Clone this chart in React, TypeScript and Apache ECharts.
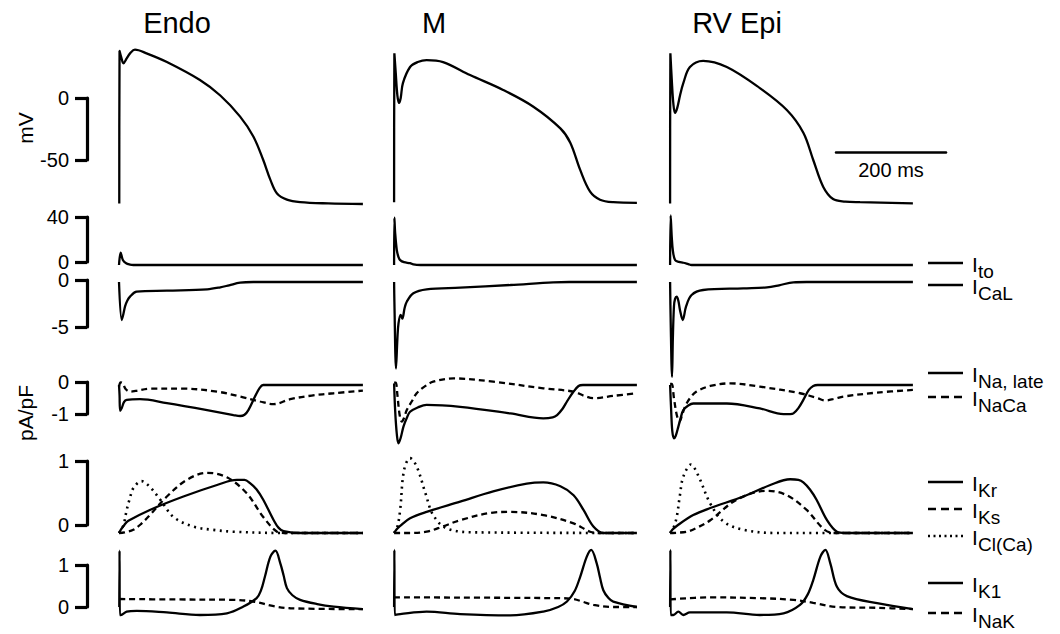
import React, { useEffect, useRef } from "react";
import * as echarts from "echarts";

// ---------- labels ----------
const columnTitles = ["Endo", "M", "RV Epi"];
const scaleBarTicks = [
  [-50, 0],
  [0, 40],
  [-5, 0],
  [-1, 0],
  [0, 1],
  [0, 1],
];
const timeBarMs = 200;

// ---------- membrane potential (mV) vs time (ms) ----------
const endoV = [[0.5,-85],[1,38],[4,33],[8,28],[14,32],[20,36],[29,39],[50,36],[87,29],[147,14.5],[184,2],[220,-15],[244,-31],[262,-50],[275,-66],[287,-77],[305,-82],[329,-84],[380,-85],[443,-85.5]];
const mV = [[2,-84],[2.5,36],[5,20],[8,2],[11,-4],[14,0],[18,12],[31,25],[45,29],[61,30.6],[91,29],[140,18.5],[200,6.5],[255,-7],[304,-24.5],[322,-36],[340,-58],[358,-75.5],[376,-82],[400,-84],[443,-84.5]];
const rvV = [[2,-85],[2.5,36],[5,15],[8,-5],[11,-12],[15,-8],[20,2],[26,12],[38,25],[62,30],[105,25],[165,8],[214,-9.7],[244,-28],[262,-50],[280,-71.5],[298,-81.5],[320,-83.5],[347,-84],[443,-85]];

// ---------- Ito ----------
const endoIto = [[0,0],[1,0],[3,11],[7,4.4],[13,1.5],[20,0.4],[26,0],[443,0]];
const mIto = [[2,0],[2.5,42],[4,28],[7,13],[10,7],[13,4.4],[20,2.5],[31,1.6],[37,0.5],[50,0],[443,0]];
const rvIto = [[2,0],[3,44],[5,25],[7,13],[11,4.4],[18,2.8],[26,2],[35,0.8],[41,0],[443,0]];

// ---------- ICaL ----------
const endoCaL = [[0,0],[1,0],[5,-4.04],[8,-3.4],[11,-2.6],[15,-2.0],[20,-1.56],[32,-1.03],[87,-0.92],[160,-0.78],[184,-0.57],[200,-0.35],[220,-0.07],[244,0],[443,0]];
const mCaL = [[2,0],[2.5,-2],[5.5,-9.2],[8,-6],[10,-4.4],[14,-3.5],[17,-3.9],[21,-2.8],[25,-2.1],[37,-1.2],[61,-0.78],[122,-0.6],[213,-0.32],[291,-0.04],[320,0],[443,0]];
const rvCaL = [[2,0],[3,-4],[5.5,-10.1],[7,-6],[9,-2.6],[11,-1.8],[14,-1.56],[17,-2.0],[20,-3],[25,-4.04],[31,-2.6],[41,-1.38],[62,-0.85],[135,-0.67],[178,-0.57],[200,-0.35],[226,-0.03],[250,0],[443,0]];

// ---------- INa,late (solid) and INaCa (dashed) ----------
const endoNaL = [[0,0],[1,-0.3],[2,-0.78],[5,-0.7],[9,-0.52],[14,-0.45],[38,-0.43],[87,-0.55],[160,-0.76],[208,-0.91],[220,-0.94],[228,-0.9],[235,-0.76],[247,-0.35],[255,-0.1],[262,0],[443,0]];
const endoNaCa = [[0,-0.05],[3,0.08],[7,0.05],[12,-0.12],[20,-0.2],[30,-0.18],[56,-0.11],[117,-0.11],[178,-0.2],[220,-0.35],[256,-0.5],[281,-0.58],[311,-0.43],[350,-0.32],[390,-0.25],[443,-0.17]];
const mNaL = [[2,0.05],[4,-0.8],[7,-1.5],[10,-1.77],[14,-1.6],[19,-1.26],[25,-1.0],[31,-0.81],[45,-0.68],[61,-0.6],[122,-0.66],[213,-0.86],[273,-1.01],[290,-0.98],[298,-0.91],[308,-0.72],[316,-0.5],[327,-0.22],[337,-0.03],[345,0],[443,0]];
const mNaCa = [[2,0.07],[5,0.07],[8,-0.3],[12,-0.9],[16,-1.11],[20,-1.0],[25,-0.76],[34,-0.5],[43,-0.25],[57,-0.05],[73,0.1],[110,0.2],[182,0.1],[273,-0.1],[328,-0.2],[346,-0.32],[364,-0.4],[400,-0.33],[443,-0.25]];
const rvNaL = [[2,0],[4,-0.8],[6,-1.4],[9,-1.62],[12,-1.55],[17,-1.26],[22,-0.95],[26,-0.76],[35,-0.62],[44,-0.56],[105,-0.56],[165,-0.71],[208,-0.88],[220,-0.88],[226,-0.86],[235,-0.7],[244,-0.45],[254,-0.15],[262,-0.03],[270,0],[443,0]];
const rvNaCa = [[2,0.03],[5,0.03],[9,-0.4],[14,-0.9],[19,-1.11],[24,-0.9],[29,-0.66],[38,-0.4],[50,-0.2],[75,-0.03],[111,0.05],[165,-0.05],[238,-0.25],[270,-0.4],[284,-0.47],[300,-0.42],[317,-0.35],[378,-0.23],[443,-0.15]];

// ---------- IKr (solid), IKs (dashed), ICl(Ca) (dotted) ----------
const endoKr = [[0,0],[4,0.06],[10,0.13],[17,0.19],[56,0.36],[117,0.57],[178,0.75],[214,0.83],[228,0.83],[238,0.78],[250,0.68],[262,0.52],[281,0.2],[290,0.08],[299,0.03],[330,0],[443,0]];
const endoKs = [[0,0],[10,0.01],[26,0.05],[40,0.14],[56,0.28],[87,0.57],[123,0.83],[160,0.94],[196,0.87],[232,0.62],[262,0.25],[287,0.02],[300,0],[443,0]];
const endoCl = [[0,0],[8,0.12],[14,0.36],[20,0.55],[26,0.7],[41,0.81],[56,0.72],[75,0.52],[99,0.25],[135,0.1],[170,0.05],[208,0.02],[299,0],[443,0]];
const mKr = [[2,0],[6,0.05],[13,0.11],[31,0.23],[61,0.33],[122,0.49],[182,0.65],[243,0.77],[273,0.79],[304,0.73],[328,0.59],[346,0.36],[364,0.1],[382,0],[443,0]];
const mKs = [[2,0],[31,0],[61,0.02],[90,0.1],[122,0.2],[182,0.32],[213,0.33],[273,0.28],[328,0.15],[358,0.02],[375,0],[443,0]];
const mCl = [[2,0],[8,0.1],[13,0.36],[20,0.98],[31,1.17],[43,1.04],[59,0.62],[73,0.28],[98,0.07],[152,0.01],[443,0]];
const rvKr = [[2,0],[6,0.05],[14,0.11],[44,0.28],[75,0.39],[135,0.57],[184,0.75],[220,0.84],[235,0.83],[244,0.79],[256,0.68],[268,0.52],[287,0.2],[305,0.02],[320,0],[443,0]];
const rvKs = [[2,0],[32,0.02],[50,0.08],[75,0.2],[123,0.52],[178,0.66],[214,0.59],[250,0.36],[280,0.07],[298,0],[443,0]];
const rvCl = [[2,0],[8,0.08],[14,0.25],[20,0.6],[26,0.88],[40,1.07],[53,0.9],[75,0.46],[99,0.18],[135,0.05],[196,0],[443,0]];

// ---------- IK1 (solid), INaK (dashed) ----------
const endoK1 = [[0.5,0],[1,1.34],[1.5,-0.19],[3,-0.19],[14,-0.11],[32,-0.09],[87,-0.13],[147,-0.19],[196,-0.15],[226,0.01],[250,0.21],[258,0.4],[265,0.72],[275,1.2],[284,1.34],[293,1.04],[299,0.75],[305,0.45],[315,0.28],[329,0.17],[360,0.07],[390,0.01],[443,-0.05]];
const endoNaK = [[0.5,0.19],[100,0.18],[208,0.17],[244,0.13],[281,0.02],[311,-0.03],[443,-0.05]];
const mK1 = [[2,0],[2.5,1.36],[3,-0.19],[13,-0.17],[61,-0.11],[122,-0.17],[213,-0.2],[273,-0.11],[300,0],[316,0.13],[330,0.38],[340,0.72],[352,1.2],[360,1.36],[370,1.04],[376,0.7],[382,0.4],[391,0.22],[400,0.13],[443,0]];
const mNaK = [[2,0.23],[304,0.21],[328,0.19],[346,0.12],[364,0.05],[400,0],[443,0]];
const rvK1 = [[2,0],[2.5,1.36],[3,-0.19],[8,-0.19],[17,-0.11],[26,-0.19],[38,-0.13],[105,-0.13],[165,-0.19],[208,-0.15],[238,0.05],[252,0.3],[262,0.64],[275,1.2],[284,1.36],[293,1.04],[305,0.48],[323,0.26],[378,0.09],[443,-0.05]];
const rvNaK = [[2,0.18],[75,0.23],[165,0.21],[226,0.17],[262,0.1],[305,0],[380,-0.02],[443,-0.05]];

// ---------- legend entries ----------
const legendItems = [
  { sub: "to", dash: "solid" },
  { sub: "CaL", dash: "solid" },
  { sub: "Na, late", dash: "solid" },
  { sub: "NaCa", dash: "dashed" },
  { sub: "Kr", dash: "solid" },
  { sub: "Ks", dash: "dashed" },
  { sub: "Cl(Ca)", dash: "dotted" },
  { sub: "K1", dash: "solid" },
  { sub: "NaK", dash: "dashed" },
];

// ---------- layout (pixels) ----------
const FONT = "Liberation Sans, Arial, Helvetica, sans-serif";
const X_MAX = 445;
const COL_LEFT = [119, 393, 669];
const COL_WIDTH = 245;
const ROWS = [
  { zero: 98, ppu: 1.24, min: -90, max: 45 },
  { zero: 265, ppu: 1.125, min: -2, max: 46 },
  { zero: 282, ppu: 9.4, min: -10.5, max: 0.5 },
  { zero: 385, ppu: 33, min: -2, max: 0.3 },
  { zero: 533, ppu: 64, min: -0.1, max: 1.25 },
  { zero: 607, ppu: 42, min: -0.3, max: 1.45 },
];
const BAR_PX = [
  [98, 160],
  [217, 262],
  [280, 327],
  [382, 414],
  [461, 525],
  [565, 607],
];
const BAR_LABEL_PAD = [
  [0, 0, 0, 0],
  [0, 0, 6, 0],
  [6, 0, 0, 0],
  [0, 0, 0, 0],
  [0, 0, 0, 0],
  [0, 0, 0, 0],
];
const BAR_X = 87;
const LEGEND_Y = [263, 285, 373, 397, 482, 509, 536, 583, 613];
const TITLE_X = [177, 434, 737];

const DASHES: Record<string, any> = {
  solid: "solid",
  dashed: [6, 4],
  dotted: [2, 4.5],
};

const traces = [
  [[endoV, "solid"]],
  [[endoIto, "solid"]],
  [[endoCaL, "solid"]],
  [[endoNaL, "solid"], [endoNaCa, "dashed"]],
  [[endoKr, "solid"], [endoKs, "dashed"], [endoCl, "dotted"]],
  [[endoK1, "solid"], [endoNaK, "dashed"]],
];
const tracesM = [
  [[mV, "solid"]],
  [[mIto, "solid"]],
  [[mCaL, "solid"]],
  [[mNaL, "solid"], [mNaCa, "dashed"]],
  [[mKr, "solid"], [mKs, "dashed"], [mCl, "dotted"]],
  [[mK1, "solid"], [mNaK, "dashed"]],
];
const tracesRV = [
  [[rvV, "solid"]],
  [[rvIto, "solid"]],
  [[rvCaL, "solid"]],
  [[rvNaL, "solid"], [rvNaCa, "dashed"]],
  [[rvKr, "solid"], [rvKs, "dashed"], [rvCl, "dotted"]],
  [[rvK1, "solid"], [rvNaK, "dashed"]],
];
const allTraces = [traces, tracesM, tracesRV];

function buildOption() {
  const grid: any[] = [];
  const xAxis: any[] = [];
  const yAxis: any[] = [];
  const series: any[] = [];
  const graphic: any[] = [];

  // data grids
  for (let c = 0; c < 3; c++) {
    for (let r = 0; r < ROWS.length; r++) {
      const row = ROWS[r];
      const idx = grid.length;
      grid.push({
        left: COL_LEFT[c],
        width: COL_WIDTH,
        top: row.zero - row.max * row.ppu,
        height: (row.max - row.min) * row.ppu,
        outerBoundsMode: "none",
        containLabel: false,
      });
      xAxis.push({ type: "value", gridIndex: idx, min: 0, max: X_MAX, show: false });
      yAxis.push({ type: "value", gridIndex: idx, min: row.min, max: row.max, show: false });
      for (const [data, dash] of allTraces[c][r] as any[]) {
        series.push({
          type: "line",
          xAxisIndex: idx,
          yAxisIndex: idx,
          data,
          symbol: "none",
          showSymbol: false,
          smooth: 0.35,
          clip: false,
          silent: true,
          lineStyle: {
            color: "#000",
            width: dash === "dotted" ? 2.6 : 2.3,
            type: DASHES[dash],
            cap: "butt",
          },
        });
      }
    }
  }

  // vertical scale bars
  for (let r = 0; r < BAR_PX.length; r++) {
    const [lo, hi] = scaleBarTicks[r];
    const [topPx, botPx] = BAR_PX[r];
    const idx = grid.length;
    grid.push({
      left: BAR_X,
      width: 2,
      top: topPx,
      height: botPx - topPx,
      outerBoundsMode: "none",
      containLabel: false,
    });
    xAxis.push({ type: "value", gridIndex: idx, show: false, min: 0, max: 1 });
    yAxis.push({
      type: "value",
      gridIndex: idx,
      min: lo,
      max: hi,
      interval: hi - lo,
      position: "left",
      axisLine: { show: true, lineStyle: { color: "#000", width: 3.2 } },
      axisTick: { show: true, length: 12, inside: false, lineStyle: { color: "#000", width: 3.2 } },
      axisLabel: {
        show: true,
        color: "#000",
        fontSize: 20,
        lineHeight: 15,
        margin: 18,
        fontFamily: FONT,
        padding: BAR_LABEL_PAD[r],
      },
      splitLine: { show: false },
    });
  }

  // time scale bar
  {
    const idx = grid.length;
    grid.push({ left: 836, width: 110, top: 151, height: 1, outerBoundsMode: "none", containLabel: false });
    xAxis.push({
      type: "value",
      gridIndex: idx,
      min: 0,
      max: timeBarMs,
      position: "bottom",
      name: `${timeBarMs} ms`,
      nameLocation: "middle",
      nameGap: 8,
      nameTextStyle: { color: "#000", fontSize: 20, fontFamily: FONT, verticalAlign: "top" },
      axisLine: { show: true, lineStyle: { color: "#000", width: 2.5 } },
      axisTick: { show: false },
      axisLabel: { show: false },
      splitLine: { show: false },
    });
    yAxis.push({ type: "value", gridIndex: idx, show: false });
  }

  // column titles
  columnTitles.forEach((t, i) => {
    graphic.push({
      type: "text",
      x: TITLE_X[i],
      y: 23,
      style: { text: t, fontSize: 29, fontFamily: FONT, fill: "#000", textAlign: "center", textVerticalAlign: "middle" },
    });
  });

  // unit labels
  graphic.push({
    type: "text",
    x: 25,
    y: 128,
    rotation: Math.PI / 2,
    style: { text: "mV", fontSize: 21, fontFamily: FONT, fill: "#000", textAlign: "center", textVerticalAlign: "middle" },
  });
  graphic.push({
    type: "text",
    x: 25,
    y: 413,
    rotation: Math.PI / 2,
    style: { text: "pA/pF", fontSize: 21, fontFamily: FONT, fill: "#000", textAlign: "center", textVerticalAlign: "middle" },
  });

  // legend
  legendItems.forEach((it, i) => {
    const y = LEGEND_Y[i];
    graphic.push({
      type: "line",
      shape: { x1: 928, y1: y, x2: 963, y2: y },
      style: {
        stroke: "#000",
        lineWidth: it.dash === "dotted" ? 2.4 : 2.6,
        lineDash: it.dash === "solid" ? null : it.dash === "dashed" ? [8, 5] : [2, 3.5],
      },
    });
    graphic.push({
      type: "text",
      x: 972,
      y: y + 1,
      style: { text: "I", fontSize: 21, fontFamily: FONT, fill: "#000", textAlign: "left", textVerticalAlign: "middle" },
    });
    graphic.push({
      type: "text",
      x: 978,
      y: y + 8,
      style: { text: it.sub, fontSize: 19, fontFamily: FONT, fill: "#000", textAlign: "left", textVerticalAlign: "middle" },
    });
  });

  return {
    animation: false,
    backgroundColor: "#fff",
    textStyle: { fontFamily: FONT },
    grid,
    xAxis,
    yAxis,
    series,
    graphic,
  };
}

export default function App() {
  const ref = useRef<HTMLDivElement>(null);
  useEffect(() => {
    if (!ref.current) return;
    const chart = echarts.init(ref.current, null, { renderer: "svg" });
    chart.setOption(buildOption() as any);
    return () => chart.dispose();
  }, []);
  return (
    <div
      ref={ref}
      style={{ position: "fixed", left: 0, top: 0, width: 1060, height: 634, background: "#fff" }}
    />
  );
}
